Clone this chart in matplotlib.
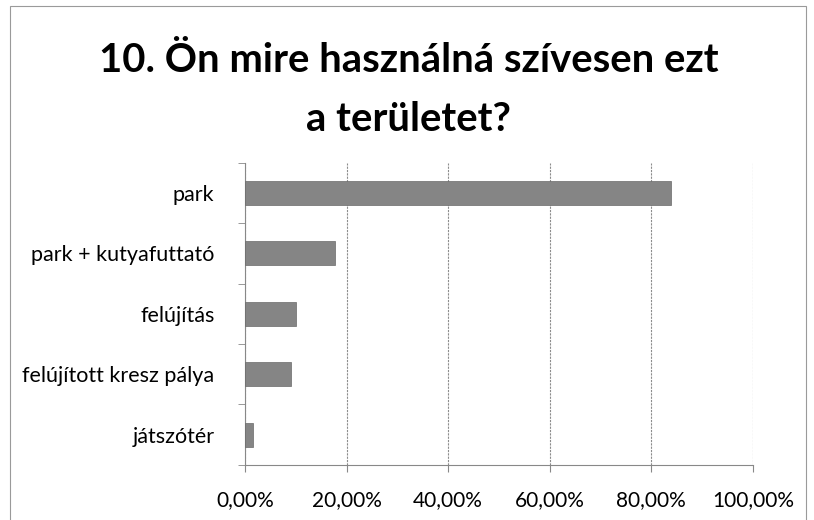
import matplotlib.pyplot as plt
from matplotlib.patches import Rectangle
from matplotlib.ticker import FixedLocator, FuncFormatter

# adatok
kategoriak = ['park', 'park + kutyafuttató', 'felújítás', 'felújított kresz pálya', 'játszótér']
ertekek = [83.9, 17.7, 10.0, 9.0, 1.6]
x_tickek = [0, 20, 40, 60, 80, 100]

plt.rcParams['font.family'] = ['Lato', 'DejaVu Sans']

fig = plt.figure(figsize=(8.14, 5.2), dpi=100)
ax = fig.add_axes([0.301, 0.106, 0.624, 0.581])

# keret a diagram körül
fig.patches.append(Rectangle((0.012, -0.01), 0.978, 0.998, transform=fig.transFigure,
                             fill=False, edgecolor='#9a9a9a', linewidth=0.8))

pos = list(range(len(kategoriak)))
ax.barh(pos, ertekek, height=0.4, color='#858585', edgecolor='#6a6a6a', linewidth=0.5, zorder=3)

ax.set_ylim(len(kategoriak) - 0.5, -0.5)
ax.set_xlim(0, 100)

ax.set_yticks(pos)
ax.set_yticklabels(kategoriak, fontsize=15.5)
ax.yaxis.set_minor_locator(FixedLocator([p - 0.5 for p in pos] + [len(pos) - 0.5]))
ax.tick_params(axis='y', which='major', length=0, pad=22)
ax.tick_params(axis='y', which='minor', length=5, color='#888888', direction='out')

ax.set_xticks(x_tickek)
ax.xaxis.set_major_formatter(FuncFormatter(lambda v, _: f'{v:.2f}%'.replace('.', ',')))
ax.tick_params(axis='x', length=5, color='#888888', labelsize=15, pad=13)

ax.grid(axis='x', color='#8c8c8c', linewidth=0.8, linestyle=(0, (2, 1)), zorder=0)
for s in ['top', 'right']:
    ax.spines[s].set_visible(False)
for s in ['left', 'bottom']:
    ax.spines[s].set_color('#888888')
    ax.spines[s].set_linewidth(0.8)

# cím, két sorban
fig.text(0.502, 1 - 72 / 520, '10. Ön mire használná szívesen ezt', ha='center', va='baseline',
         fontsize=28.8, fontweight='bold')
fig.text(0.502, 1 - 131 / 520, 'a területet?', ha='center', va='baseline',
         fontsize=28.8, fontweight='bold')

fig.savefig('out.png', dpi=100)
